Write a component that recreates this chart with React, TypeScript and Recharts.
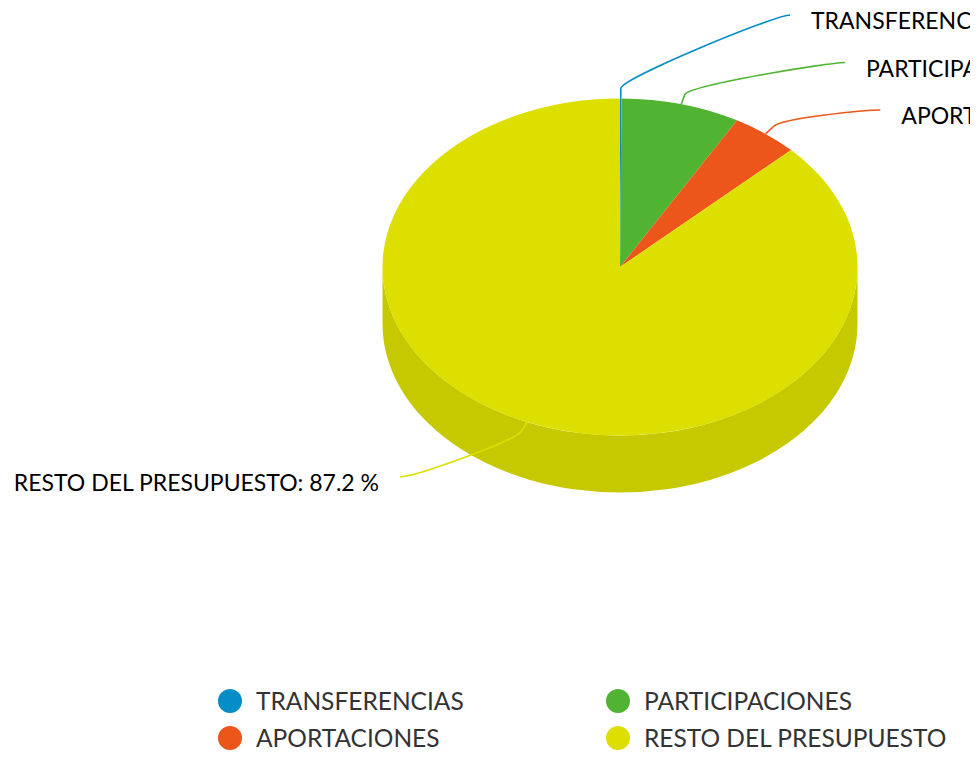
import { Legend, Pie, PieChart } from "recharts";

const NAMES = ["TRANSFERENCIAS", "PARTICIPACIONES", "APORTACIONES", "RESTO DEL PRESUPUESTO"];
const SHARES = [0.1, 8.1, 4.6, 87.2];
const COLORS = ["#058DC7", "#50B432", "#ED561B", "#DDDF00"];

const data = NAMES.map((name, i) => ({ name, value: SHARES[i] }));

// fake 3d: ellipse squash + side wall depth
const TILT = 0.7095;
const DEPTH = 57;
const RISE = 252;
const DROP = 228;
const REACH = 304;
const GAP = 47.5;
const FONT = "Lato, 'Open Sans', sans-serif";

const RAD = Math.PI / 180;

function shade(hex: string, f: number) {
  const n = parseInt(hex.slice(1), 16);
  const c = [(n >> 16) & 255, (n >> 8) & 255, n & 255].map((v) => Math.round(v * f));
  return `rgb(${c.join(",")})`;
}

function ell(cx: number, cy: number, r: number, deg: number, drop = 0) {
  return [cx + r * Math.cos(deg * RAD), cy - r * TILT * Math.sin(deg * RAD) + drop];
}

function SideFace(props: any) {
  const { cx, cy, outerRadius: r, startAngle, endAngle, index } = props;
  const lo = Math.min(startAngle, endAngle);
  const hi = Math.max(startAngle, endAngle);
  const parts: number[][] = [];
  for (let k = -2; k <= 1; k++) {
    const a = Math.max(lo, -180 + 360 * k);
    const b = Math.min(hi, 360 * k);
    if (b > a) parts.push([a, b]);
  }
  return (
    <g>
      {parts.map(([a, b], j) => {
        const [x1, y1] = ell(cx, cy, r, b);
        const [x2, y2] = ell(cx, cy, r, a);
        const large = b - a > 180 ? 1 : 0;
        const ry = r * TILT;
        const d = `M${x1},${y1} A${r},${ry} 0 ${large} 1 ${x2},${y2} L${x2},${y2 + DEPTH} A${r},${ry} 0 ${large} 0 ${x1},${y1 + DEPTH} Z`;
        return <path key={j} d={d} fill={shade(COLORS[index], 0.9)} />;
      })}
    </g>
  );
}

function TopFace(props: any) {
  const { cx, cy, outerRadius: r, startAngle, endAngle, index } = props;
  const [x1, y1] = ell(cx, cy, r, startAngle);
  const [x2, y2] = ell(cx, cy, r, endAngle);
  const large = Math.abs(startAngle - endAngle) > 180 ? 1 : 0;
  const sweep = startAngle > endAngle ? 1 : 0;
  const d = `M${cx},${cy} L${x1},${y1} A${r},${r * TILT} 0 ${large} ${sweep} ${x2},${y2} Z`;
  return <path d={d} fill={COLORS[index]} />;
}

const placed: Record<string, number> = { left: -Infinity, right: -Infinity };

function Callout(props: any) {
  const { cx, cy, outerRadius: r, midAngle, index, name, percent } = props;
  if (index === 0) {
    placed.left = -Infinity;
    placed.right = -Infinity;
  }
  const s = Math.sin(midAngle * RAD);
  const side = Math.cos(midAngle * RAD) >= 0 ? "right" : "left";
  const dir = side === "right" ? 1 : -1;
  let y = cy - s * (s > 0 ? RISE : DROP);
  y = Math.max(y, placed[side] + GAP);
  placed[side] = y;
  const ex = cx + dir * Math.sqrt(Math.max(0, REACH * REACH - (y - cy) * (y - cy)));
  const [sx, sy] = ell(cx, cy, r, midAngle);
  const [bx, by] = ell(cx, cy, r + 14, midAngle);
  const [qx, qy] = ell(cx, cy, r + 28, midAngle);
  const d = `M${ex},${y} C${ex - dir * 15},${y} ${qx},${qy} ${bx},${by} L${sx},${sy}`;
  return (
    <g>
      <path d={d} fill="none" stroke={COLORS[index]} strokeWidth={1.6} />
      <text
        x={ex + dir * 21}
        y={y + 5}
        textAnchor={side === "right" ? "start" : "end"}
        dominantBaseline="central"
        fontFamily={FONT}
        fontSize={23}
        fill="#000"
      >
        {`${name}: ${(percent * 100).toFixed(1)} %`}
      </text>
    </g>
  );
}

function LegendBlock() {
  return (
    <div
      style={{
        display: "grid",
        gridTemplateColumns: "388px 1fr",
        fontFamily: FONT,
        fontSize: 24.5,
        color: "#333",
      }}
    >
      {NAMES.map((label, i) => (
        <div key={label} style={{ display: "flex", alignItems: "center", height: 37 }}>
          <span
            style={{
              width: 24,
              height: 24,
              borderRadius: 12,
              background: COLORS[i],
              marginRight: 14,
              flex: "none",
            }}
          />
          <span>{label}</span>
        </div>
      ))}
    </div>
  );
}

const pieBase = {
  data,
  dataKey: "value",
  nameKey: "name",
  cx: 620,
  cy: 267,
  outerRadius: 237.5,
  startAngle: 90,
  endAngle: -270,
  fill: "none",
  stroke: "none",
  labelLine: false,
  legendType: "none" as const,
  isAnimationActive: false,
};

export default function App() {
  return (
    <div style={{ position: "absolute", left: 0, top: 0 }}>
      <PieChart width={970} height={760} margin={{ top: 0, right: 0, bottom: 0, left: 0 }} style={{ overflow: "hidden" }}>
        <Pie {...pieBase} label={SideFace} />
        <Pie {...pieBase} label={TopFace} />
        <Pie {...pieBase} label={Callout} />
        <Legend
          content={() => <LegendBlock />}
          wrapperStyle={{ position: "absolute", left: 218, top: 682, width: 760, height: 74 }}
        />
      </PieChart>
    </div>
  );
}
